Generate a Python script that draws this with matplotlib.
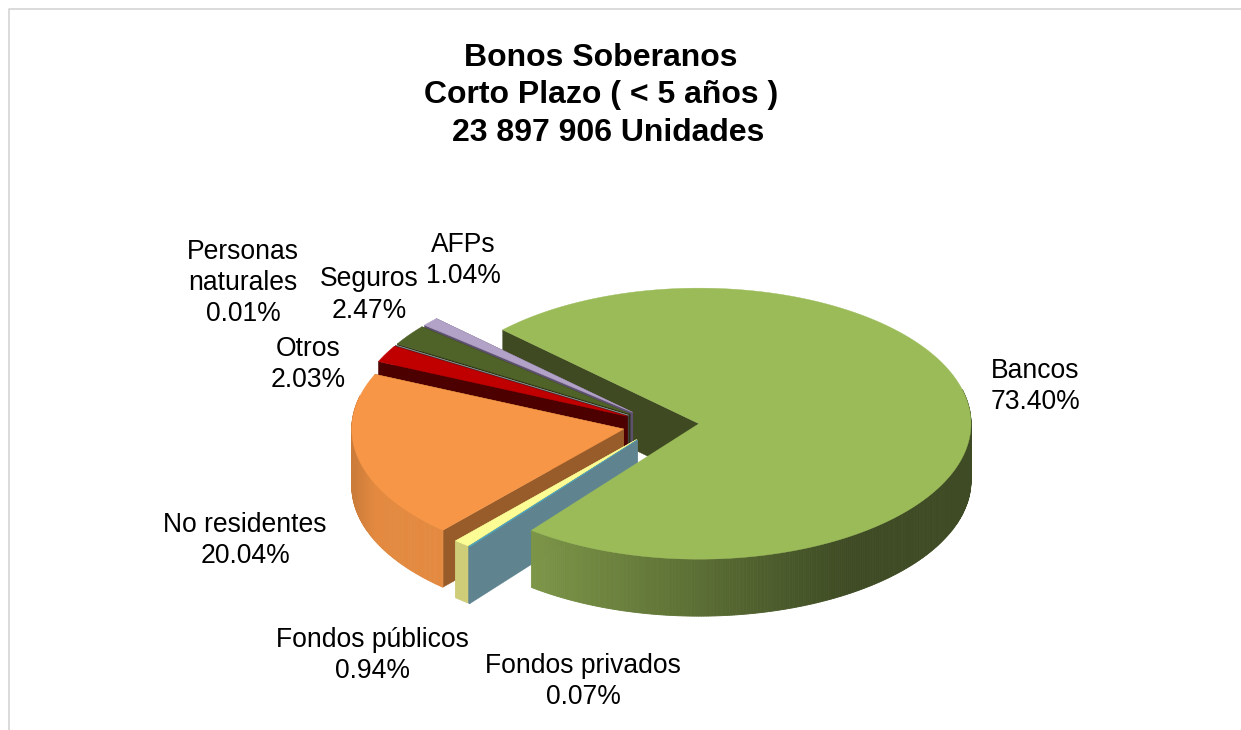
import numpy as np
import matplotlib
matplotlib.use("Agg")
import matplotlib.pyplot as plt
from matplotlib.colors import to_rgb

categories = ["Bancos", "Fondos privados", "Fondos públicos", "No residentes",
              "Otros", "Personas naturales", "Seguros", "AFPs"]
label_names = ["Bancos", "Fondos privados", "Fondos públicos", "No residentes",
               "Otros", "Personas\nnaturales", "Seguros", "AFPs"]
shares = [73.40, 0.07, 0.94, 20.04, 2.03, 0.01, 2.47, 1.04]
top_colors = ["#9bbb59", "#4bacc6", "#fdfd96", "#f79646", "#c00000", "#8c8c8c", "#4f6228", "#b2a2c7"]
wall_colors = ["#3f4a22", "#5f8490", "#cfcd78", "#975c2a", "#4d0000", "#444444", "#2c3616", "#5e5170"]
label_pos = [(1035, 384.5), (583, 679.5), (372, 653.5), (245, 538.5), (308, 362.5), (243, 281), (369, 293), (463, 258.5)]
title_lines = ["Bonos Soberanos", "Corto Plazo ( < 5 años )", "23 897 906 Unidades"]
title_pos = [(601, 58), (601, 95), (608, 133)]

# per-slice gradient along the outer side: (position 0..1 in x, brightness)
side_stops = {
    "Bancos": ([0.0, 0.72, 1.0], [0.80, 0.40, 0.40]),
    "No residentes": ([0.0, 1.0], [0.82, 0.92]),
}

CX, CY = 661.0, 425.0
RX, RY = 272.0, 135.5
DEPTH = 57.0
EXPLODE = 0.14
START = 136.2

plt.rcParams["font.family"] = ["Liberation Sans", "DejaVu Sans"]
fig = plt.figure(figsize=(12.41, 7.30), dpi=100, facecolor="white")
ax = fig.add_axes([0, 0, 1, 1])
ax.set_xlim(0, 1241)
ax.set_ylim(730, 0)
ax.axis("off")

ax.plot([9, 9, 1241], [730, 9, 9], color="#d4d4d4", lw=1.2, zorder=1)

# slice angles, clockwise from START
spans = np.array(shares) / sum(shares) * 360.0
a0 = START - np.concatenate([[0], np.cumsum(spans)[:-1]])
a1 = a0 - spans


def centre(i):
    mid = np.radians((a0[i] + a1[i]) / 2)
    return CX + EXPLODE * RX * np.cos(mid), CY - EXPLODE * RY * np.sin(mid)


def pt(c, deg):
    r = np.radians(deg)
    return c[0] + RX * np.cos(r), c[1] - RY * np.sin(r)


def wall(i, deg, z):
    c = centre(i)
    p = pt(c, deg)
    ax.fill([c[0], p[0], p[0], c[0]], [c[1], p[1], p[1] + DEPTH, c[1] + DEPTH],
            color=wall_colors[i], lw=0.3, zorder=z)


def side(i, z):
    c = centre(i)
    ang = np.linspace(a0[i], a1[i], max(int(spans[i] * 2), 2) + 1)
    base = np.array(to_rgb(top_colors[i]))
    name = categories[i]
    if name == "Bancos":
        lo, hi = c[0] + RX * np.cos(np.radians(a1[i])), c[0] + RX
    else:
        lo, hi = c[0] - RX, c[0] + RX * np.cos(np.radians(a1[i]))
    for k in range(len(ang) - 1):
        if np.sin(np.radians((ang[k] + ang[k + 1]) / 2)) > 0.25:
            continue
        p, q = pt(c, ang[k]), pt(c, ang[k + 1])
        if name in side_stops:
            f = (0.5 * (p[0] + q[0]) - lo) / (hi - lo)
            col = tuple(base * np.interp(f, *side_stops[name]))
        else:
            col = wall_colors[i]
        ax.fill([p[0], q[0], q[0], p[0]], [p[1], q[1], q[1] + DEPTH, p[1] + DEPTH],
                color=col, lw=0.6, zorder=z)


def top(i, z):
    c = centre(i)
    ang = np.linspace(a0[i], a1[i], max(int(spans[i] * 2), 2) + 1)
    xs = [c[0]] + [pt(c, a)[0] for a in ang]
    ys = [c[1]] + [pt(c, a)[1] for a in ang]
    ax.fill(xs, ys, color=top_colors[i], lw=0.3, zorder=z)


# back wall of the largest slice first
wall(0, a0[0], 2)

# small slices back to front
z = 3
for i in [7, 6, 5, 4, 3, 2, 1]:
    wall(i, a0[i], z)
    wall(i, a1[i], z + 0.1)
    side(i, z + 0.2)
    top(i, z + 0.3)
    z += 1
side(0, z)
top(0, z + 0.1)

for name, val, (x, y) in zip(label_names, shares, label_pos):
    ax.text(x, y + 2, f"{name}\n{val:.2f}%", ha="center", va="center", fontsize=19.1,
            linespacing=1.26, color="black", zorder=30)

for line, (x, y) in zip(title_lines, title_pos):
    ax.text(x, y, line, ha="center", va="center", fontsize=23.0, fontweight="bold",
            color="black", zorder=30)

fig.savefig("out.png", dpi=100, facecolor="white")
